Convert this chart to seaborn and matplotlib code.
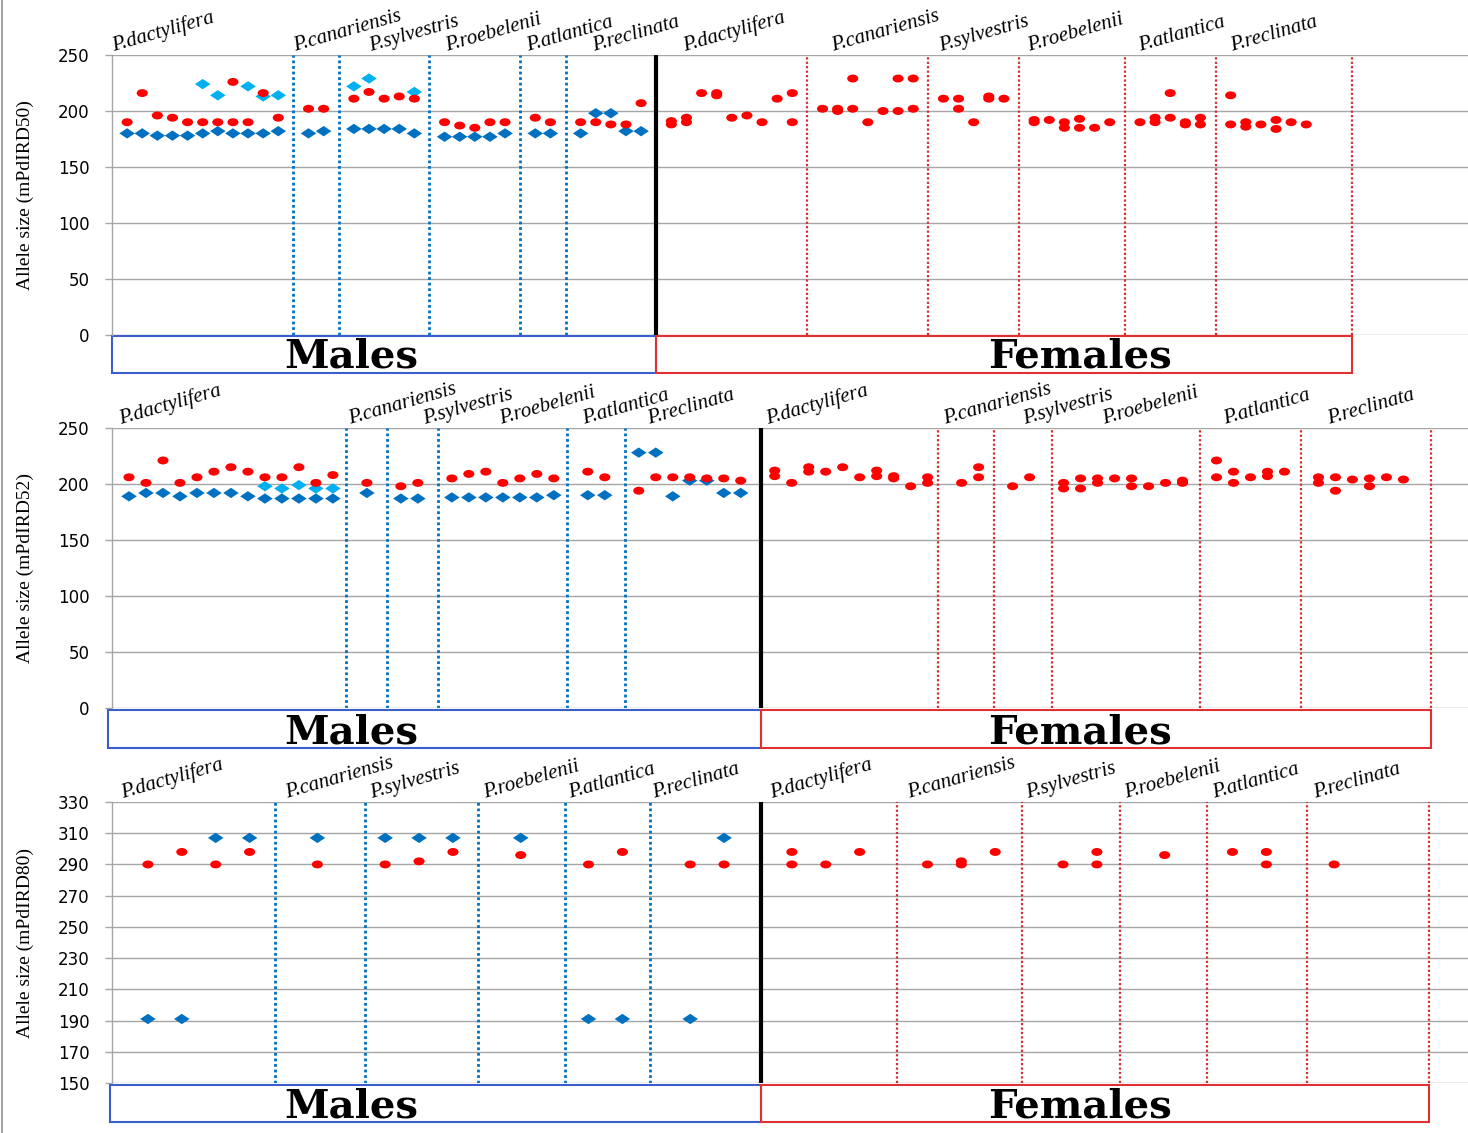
import matplotlib
matplotlib.use("Agg")
import matplotlib.pyplot as plt
import matplotlib.transforms as mtransforms
from matplotlib.path import Path
from matplotlib.patches import Rectangle
from matplotlib.lines import Line2D
import seaborn as sns
import pandas as pd

# ---------------- data ----------------
species = ["P.dactylifera", "P.canariensis", "P.sylvestris",
           "P.roebelenii", "P.atlantica", "P.reclinata"]
ylabels = ["Allele size (mPdIRD50)", "Allele size (mPdIRD52)", "Allele size (mPdIRD80)"]

# Panel 1 : mPdIRD50 (x = sample number along the axis)
p1_red_x = [1, 2, 3, 4, 5, 6, 7, 8, 8, 9, 10, 11, 13, 14, 16, 17, 18, 19, 20,
            22, 23, 24, 25, 26, 28, 29, 31, 32, 33, 34, 35,
            37, 37, 38, 38, 39, 40, 40, 41, 42, 43, 44, 45, 45,
            47, 48, 48, 49, 49, 50, 51, 52, 52, 53, 53,
            55, 56, 56, 57, 58, 58, 59,
            61, 61, 62, 63, 63, 64, 64, 65, 66,
            68, 69, 69, 70, 70, 71, 71, 72, 72,
            74, 74, 75, 75, 76, 77, 77, 78, 79]
p1_red_y = [190, 216, 196, 194, 190, 190, 190, 226, 190, 190, 216, 194, 202, 202,
            211, 217, 211, 213, 211, 190, 187, 185, 190, 190, 194, 190,
            190, 190, 188, 188, 207,
            188, 191, 194, 190, 216, 216, 214, 194, 196, 190, 211, 216, 190,
            202, 202, 200, 229, 202, 190, 200, 229, 200, 229, 202,
            211, 211, 202, 190, 213, 211, 211,
            192, 190, 192, 190, 185, 193, 185, 185, 190,
            190, 194, 190, 216, 194, 190, 188, 194, 188,
            214, 188, 190, 186, 188, 192, 184, 190, 188]
p1_db_x = [1, 2, 3, 4, 5, 6, 7, 8, 9, 10, 11, 13, 14, 16, 17, 18, 19, 20,
           22, 23, 24, 25, 26, 28, 29, 31, 32, 33, 34, 35]
p1_db_y = [180, 180, 178, 178, 178, 180, 182, 180, 180, 180, 182, 180, 182,
           184, 184, 184, 184, 180, 177, 177, 177, 177, 180, 180, 180,
           180, 198, 198, 182, 182]
p1_lb_x = [6, 7, 9, 10, 11, 16, 17, 20]
p1_lb_y = [224, 214, 222, 213, 214, 222, 229, 217]

# Panel 2 : mPdIRD52
p2_red_x = [1, 2, 3, 4, 5, 6, 7, 8, 9, 10, 11, 12, 13, 15, 17, 18,
            20, 21, 22, 23, 24, 25, 26, 28, 29, 31, 32, 33, 34, 35, 36, 37,
            39, 39, 40, 41, 41, 42, 43, 44, 45, 45, 46, 46, 47, 48, 48,
            50, 51, 51, 53, 54,
            56, 56, 57, 57, 58, 58, 59, 60, 60, 61, 62, 63, 63,
            65, 65, 66, 66, 67, 68, 68, 69,
            71, 71, 72, 72, 73, 74, 74, 75, 76]
p2_red_y = [206, 201, 221, 201, 206, 211, 215, 211, 206, 206, 215, 201, 208, 201, 198, 201,
            205, 209, 211, 201, 205, 209, 205, 211, 206, 194, 206, 206, 206, 205, 205, 203,
            212, 207, 201, 215, 211, 211, 215, 206, 212, 207, 207, 205, 198, 206, 201,
            201, 215, 206, 198, 206,
            201, 196, 205, 196, 205, 201, 205, 205, 198, 198, 201, 203, 201,
            221, 206, 211, 201, 206, 211, 207, 211,
            206, 201, 206, 194, 204, 205, 198, 206, 204]
p2_db_x = [1, 2, 3, 4, 5, 6, 7, 8, 9, 10, 11, 12, 13, 15, 17, 18,
           20, 21, 22, 23, 24, 25, 26, 28, 29, 31, 32, 33, 34, 35, 36, 37]
p2_db_y = [189, 192, 192, 189, 192, 192, 192, 189, 187, 187, 187, 187, 187, 192, 187, 187,
           188, 188, 188, 188, 188, 188, 190, 190, 190, 228, 228, 189, 203, 203, 192, 192]
p2_lb_x = [9, 10, 11, 12, 13]
p2_lb_y = [198, 196, 199, 196, 196]

# Panel 3 : mPdIRD80
p3_red_x = [2, 4, 6, 8, 12, 16, 18, 20, 24, 28, 30, 34, 36,
            40, 40, 42, 44, 48, 50, 50, 52, 56, 58, 58, 62, 66, 68, 68, 72]
p3_red_y = [290, 298, 290, 298, 290, 290, 292, 298, 296, 290, 298, 290, 290,
            298, 290, 290, 298, 290, 292, 290, 298, 290, 298, 290, 296, 298, 298, 290, 290]
p3_db_x = [2, 4, 6, 8, 12, 16, 18, 20, 24, 28, 30, 34, 36]
p3_db_y = [191, 191, 307, 307, 307, 307, 307, 307, 307, 191, 191, 191, 307]
p3_lb_x = []
p3_lb_y = []

# group separators (sample-axis units): males, sex boundary, females, end
p1_male_sep = [12, 15, 21, 27, 30]
p1_female_sep = [46, 54, 60, 67, 73]
p2_male_sep = [13.8, 16.2, 19.2, 26.8, 30.2]
p2_female_sep = [48.6, 51.9, 55.3, 64, 70]
p3_male_sep = [9.5, 14.8, 21.5, 26.6, 31.6]
p3_female_sep = [46.2, 53.6, 59.35, 64.5, 70.4]

# ---------------- layout ----------------
W, H = 1468, 1133
RED, DBLUE, LBLUE = "#FF0000", "#0070C0", "#00B0F0"
GRID = "#A6A6A6"

panels = [
    dict(red=(p1_red_x, p1_red_y), db=(p1_db_x, p1_db_y), lb=(p1_lb_x, p1_lb_y),
         msep=p1_male_sep, fsep=p1_female_sep, sex=36, end=82, box0=0,
         top=55, bot=335, xlim=(0, 89.7), ylim=(0, 250), ticks=range(0, 251, 50),
         lab=[0.1, 12.1, 17.1, 22.2, 27.5, 31.9, 37.9, 47.7, 54.8, 60.7, 68.0, 74.1],
         box=(1, 38)),
    dict(red=(p2_red_x, p2_red_y), db=(p2_db_x, p2_db_y), lb=(p2_lb_x, p2_lb_y),
         msep=p2_male_sep, fsep=p2_female_sep, sex=38.2, end=77.6, box0=-0.24,
         top=428, bot=708, xlim=(0, 79.8), ylim=(0, 250), ticks=range(0, 251, 50),
         lab=[0.5, 14.0, 18.4, 22.9, 27.8, 31.6, 38.6, 49.0, 53.7, 58.4, 65.5, 71.6],
         box=(2, 40)),
    dict(red=(p3_red_x, p3_red_y), db=(p3_db_x, p3_db_y), lb=(p3_lb_x, p3_lb_y),
         msep=p3_male_sep, fsep=p3_female_sep, sex=38.2, end=77.6, box0=-0.24,
         top=802, bot=1083, xlim=(-0.12, 79.9), ylim=(150, 330), ticks=range(150, 331, 20),
         lab=[0.5, 10.2, 15.2, 21.9, 26.9, 31.9, 38.8, 46.9, 53.9, 59.7, 64.9, 70.9],
         box=(2, 39)),
]

sns.set_theme(style="white")
plt.rcParams["font.family"] = ["DejaVu Sans"]
plt.rcParams["text.color"] = "black"
plt.rcParams["ytick.color"] = "black"

ell = Path([(1.4 * x, y) for x, y in Path.unit_circle().vertices], Path.unit_circle().codes)
diamond = Path([(0, 1), (1.5, 0), (0, -1), (-1.5, 0), (0, 1)],
               [Path.MOVETO, Path.LINETO, Path.LINETO, Path.LINETO, Path.CLOSEPOLY])

fig = plt.figure(figsize=(W / 100, H / 100), dpi=100)
fig.patch.set_facecolor("white")

for i, p in enumerate(panels):
    hpx = p["bot"] - p["top"]
    ax = fig.add_axes([112 / W, 1 - p["bot"] / H, (W - 112) / W, hpx / H])
    ax.set_xlim(*p["xlim"])
    ax.set_ylim(*p["ylim"])
    ax.set_yticks(list(p["ticks"]))
    ax.set_xticks([])
    ax.yaxis.grid(True, color=GRID, lw=1)
    ax.set_axisbelow(True)
    for s in ["top", "right", "bottom"]:
        ax.spines[s].set_visible(False)
    ax.spines["left"].set_color(GRID)
    ax.spines["left"].set_linewidth(1)
    ax.tick_params(axis="y", length=5, width=1, color=GRID, pad=11,
                   labelsize=12, labelcolor="black", left=True)
    ax.set_facecolor("white")

    for xs in p["msep"]:
        ax.axvline(xs, color=DBLUE, lw=2, ls=(0, (1, 1)), zorder=1)
    for xs in p["fsep"] + [p["end"]]:
        ax.axvline(xs, color="#D03030", lw=1.6, ls=(0, (1, 1)), zorder=1)
    ax.axvline(p["sex"], color="black", lw=3, zorder=1)

    for key, col, mk, sz in [("db", DBLUE, diamond, 125), ("lb", LBLUE, diamond, 125),
                             ("red", RED, ell, 64)]:
        xs, ys = p[key]
        if len(xs):
            df = pd.DataFrame({"x": xs, "y": ys})
            sns.scatterplot(data=df, x="x", y="y", ax=ax, marker=mk, s=sz,
                            color=col, edgecolor="none", linewidth=0, zorder=3,
                            legend=False)
    ax.set_xlabel("")
    ax.set_ylabel("")

    blend = mtransforms.blended_transform_factory(ax.transData, ax.transAxes)
    b0, b1 = p["box"]
    ytop = -b0 / hpx
    bh = (b1 - b0) / hpx
    ax.add_patch(Rectangle((p["box0"], ytop - bh), p["sex"] - p["box0"], bh,
                           transform=blend, fill=False, ec="#3A5FCD", lw=1.5, clip_on=False))
    ax.add_patch(Rectangle((p["sex"], ytop - bh), p["end"] - p["sex"], bh,
                           transform=blend, fill=False, ec="#E03030", lw=1.5, clip_on=False))
    base_px = p["bot"] + b1 - 5
    fig.text(351 / W, 1 - base_px / H, "Males", ha="center", va="baseline",
             family="DejaVu Serif", weight="bold", size=29, color="black")
    fig.text(1080 / W, 1 - base_px / H, "Females", ha="center", va="baseline",
             family="DejaVu Serif", weight="bold", size=29, color="black")

    names = species + species
    for xl, nm in zip(p["lab"], names):
        ax.text(xl, 1 + 4 / hpx, nm, transform=blend, rotation=16,
                rotation_mode="anchor", ha="left", va="baseline",
                family="Liberation Serif", style="italic", size=15, clip_on=False,
                color="black")

    fig.text(25 / W, 1 - (p["top"] + p["bot"]) / 2 / H, ylabels[i], rotation=90,
             ha="center", va="center", family="Liberation Serif", size=14, color="black")

fig.add_artist(Line2D([2 / W, 2 / W], [0, 1], color="#909090", lw=1.2))

fig.savefig("out.png", dpi=100, facecolor="white")
